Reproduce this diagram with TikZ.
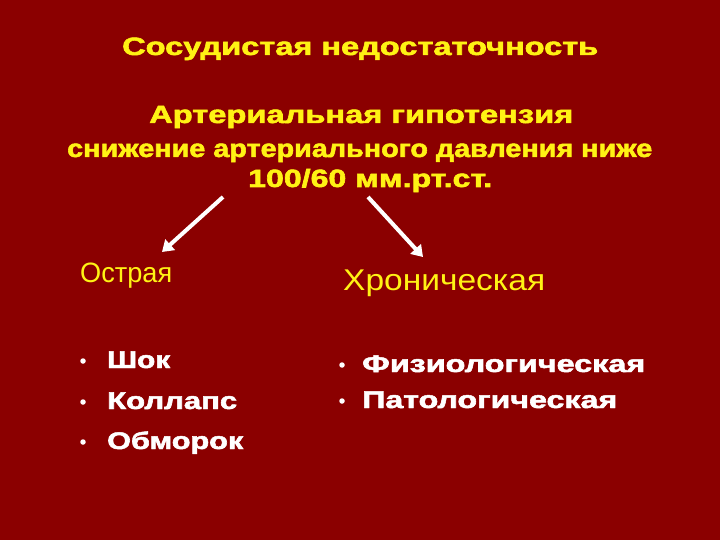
\documentclass[tikz,border=0pt]{standalone}
\usepackage{fontspec}
\usepackage{graphicx}
\setmainfont{Liberation Sans}
\newfontfamily\heavy{Liberation Sans Bold}[FakeBold=2]
\usetikzlibrary{arrows.meta}
\definecolor{bgred}{RGB}{139,0,0}
\definecolor{ylw}{RGB}{255,242,20}
\newcommand\fitw[2]{\resizebox{#1}{\height}{#2}}
\tikzset{
  ttl/.style={text=ylw, font=\fontsize{25}{30}\selectfont\heavy, inner sep=0pt, anchor=base west},
  sub/.style={text=ylw, font=\fontsize{28}{32}\selectfont, inner sep=0pt, anchor=base west},
  itm/.style={text=white, font=\fontsize{24}{28}\selectfont\heavy, inner sep=0pt, anchor=base west},
  dot/.style={circle, fill=white, inner sep=0pt, minimum size=5.5pt},
  arr/.style={draw=white, line width=4pt, -{Triangle[width=14pt,length=11pt]}}
}
\begin{document}
\begin{tikzpicture}[x=1pt,y=-1pt]
\fill[bgred] (0,0) rectangle (720,540);
\useasboundingbox (0,0) rectangle (720,540);
\node[ttl] (t1) at (122,55) {\fitw{476pt}{Сосудистая недостаточность}};
\node[ttl] (t2) at (149,123) {\fitw{424pt}{Артериальная гипотензия}};
\node[ttl] (t3) at (67,157) {\fitw{585pt}{снижение артериального давления ниже}};
\node[ttl] (t4) at (248,187) {\fitw{244pt}{100/60 мм.рт.ст.}};
\node[sub] (ac) at (80,282) {\fitw{92pt}{Острая}};
\node[sub, font=\fontsize{30}{34}\selectfont] (ch) at (343,290) {\fitw{202pt}{Хроническая}};
\coordinate (a1s) at (223,197);
\coordinate (a1e) at (162,252);
\coordinate (a2s) at (368,197);
\coordinate (a2e) at (423,257);
\draw[arr] (a1s) -- (a1e);
\draw[arr] (a2s) -- (a2e);
\node[itm] (l1) at (107,368) {\fitw{63pt}{Шок}};
\node[itm] (l2) at (107,409) {\fitw{130pt}{Коллапс}};
\node[itm] (l3) at (107,449) {\fitw{136pt}{Обморок}};
\node[dot] (b1) at (83,361) {};
\node[dot] (b2) at (83,402) {};
\node[dot] (b3) at (83,442) {};
\node[itm] (r1) at (362,372) {\fitw{283pt}{Физиологическая}};
\node[itm] (r2) at (362,408) {\fitw{255pt}{Патологическая}};
\node[dot] (b4) at (342,365) {};
\node[dot] (b5) at (342,401) {};
\end{tikzpicture}
\end{document}
